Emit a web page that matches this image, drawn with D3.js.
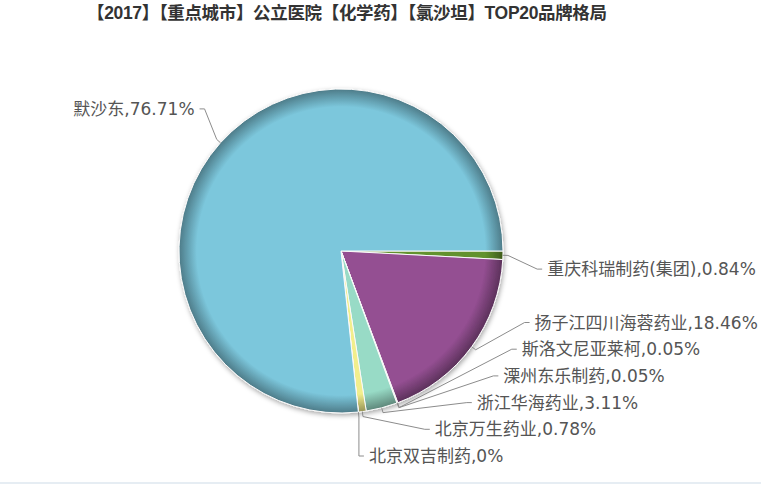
<!DOCTYPE html>
<html>
<head>
<meta charset="utf-8">
<script src="https://d3js.org/d3.v7.min.js"></script>
<style>
  body { margin: 0; background: #fff; }
</style>
</head>
<body>
<script>
    // chart data
    var brands = ["重庆科瑞制药(集团)", "扬子江四川海蓉药业", "斯洛文尼亚莱柯", "溧州东乐制药",
                  "浙江华海药业", "北京万生药业", "北京双吉制药", "默沙东"];
    var shares = [0.84, 18.46, 0.05, 0.05, 3.11, 0.78, 0, 76.71];
    var colors = ["#62922d", "#944f92", "#3b6fa8", "#c0504d", "#98dbc6", "#f2ee8c", "#d9a440", "#7cc7dc"];
    var title = "【2017】【重点城市】公立医院【化学药】【氯沙坦】TOP20品牌格局";

    var width = 761, height = 484;
    var cx = 341, cy = 251, r = 162;
    var labelR = 197;      // radius the labels sit on
    var slotH = 26.7;      // label line height
    var bottomSlot = cy + r + 43;

    var svg = d3.select("body").append("svg")
        .attr("width", width)
        .attr("height", height)
        .style("font-family", "'DejaVu Sans', 'Noto Sans CJK SC', sans-serif");

    var defs = svg.append("defs");
    var shadow = defs.append("filter").attr("id", "shadow")
        .attr("x", "-10%").attr("y", "-10%").attr("width", "130%").attr("height", "130%");
    shadow.append("feDropShadow")
        .attr("dx", 1).attr("dy", 2).attr("stdDeviation", 2.5)
        .attr("flood-color", "#000").attr("flood-opacity", 0.35);

    // rim gradient per slice
    colors.forEach(function (c, i) {
        var g = defs.append("radialGradient").attr("id", "grad" + i)
            .attr("gradientUnits", "userSpaceOnUse")
            .attr("cx", 0).attr("cy", 0).attr("r", r);
        g.append("stop").attr("offset", 0).attr("stop-color", c);
        g.append("stop").attr("offset", 0.89).attr("stop-color", c);
        g.append("stop").attr("offset", 1).attr("stop-color", d3.color(c).darker(1.35));
    });

    // title
    svg.append("text")
        .attr("x", 87).attr("y", 19)
        .attr("textLength", 520)
        .attr("lengthAdjust", "spacing")
        .style("font-family", "'Liberation Sans', 'Noto Sans CJK SC', sans-serif")
        .style("font-weight", "bold")
        .style("font-size", "17.5px")
        .style("fill", "#333")
        .text(title);

    // bottom border
    svg.append("rect")
        .attr("x", 0).attr("y", 482).attr("width", width).attr("height", 2)
        .style("fill", "#e6edf3");

    var slices = brands.map(function (b, i) { return { name: b, value: shares[i], i: i }; });

    var pie = d3.pie().sort(null).value(function (d) { return d.value; })
        .startAngle(Math.PI / 2).endAngle(Math.PI / 2 + 2 * Math.PI);
    var arcs = pie(slices);

    var arc = d3.arc().innerRadius(0).outerRadius(r);

    var g = svg.append("g").attr("transform", "translate(" + cx + "," + cy + ")");

    g.append("g").attr("filter", "url(#shadow)")
        .selectAll("path")
        .data(arcs)
        .enter()
        .append("path")
        .attr("d", arc)
        .style("fill", function (d) { return "url(#grad" + d.data.i + ")"; })
        .style("stroke", "#fafafa")
        .style("stroke-width", 1)
        .style("stroke-linejoin", "round");

    // label layout: natural position snapped to slots, pushed apart
    var labels = arcs.map(function (d) {
        var a = (d.startAngle + d.endAngle) / 2;
        return {
            d: d,
            a: a,
            right: Math.sin(a) >= 0,
            ny: cy - Math.cos(a) * labelR
        };
    });

    ["right", "left"].forEach(function (side) {
        var grp = labels.filter(function (l) { return l.right === (side === "right"); })
            .sort(function (a, b) { return a.ny - b.ny; });
        var prev = -Infinity;
        grp.forEach(function (l) {
            var k = Math.round((l.ny - bottomSlot) / slotH);
            if (k <= prev) k = prev + 1;
            l.k = k;
            prev = k;
        });
        var over = grp.length ? grp[grp.length - 1].k : 0;
        if (over > 0) {
            var lim = 0;
            for (var j = grp.length - 1; j >= 0; j--) {
                if (grp[j].k > lim) grp[j].k = lim;
                lim = grp[j].k - 1;
            }
        }
        grp.forEach(function (l) { l.y = bottomSlot + l.k * slotH; });
    });

    labels.forEach(function (l) {
        var dir = l.right ? 1 : -1;
        var ex = cx + Math.sin(l.a) * r, ey = cy - Math.cos(l.a) * r;
        var ox = cx + Math.sin(l.a) * (r + 5), oy = cy - Math.cos(l.a) * (r + 5);
        var dy = l.y - cy;
        var bx = cx + dir * Math.sqrt(Math.max(labelR * labelR - dy * dy, 0));
        if (l.right) bx = Math.max(bx, ox); else bx = Math.min(bx, ox);

        svg.append("path")
            .attr("d", "M" + ex + "," + ey + "L" + ox + "," + oy + "L" + bx + "," + l.y + "L" + (bx + dir * 5) + "," + l.y)
            .style("fill", "none")
            .style("stroke", "#8c8c8c")
            .style("stroke-width", 1);

        svg.append("text")
            .attr("x", bx + dir * 10)
            .attr("y", l.y)
            .attr("dy", "0.36em")
            .attr("text-anchor", l.right ? "start" : "end")
            .style("font-size", "17px")
            .style("fill", "#555")
            .text(l.d.data.name + "," + l.d.data.value + "%");
    });
</script>
</body>
</html>
